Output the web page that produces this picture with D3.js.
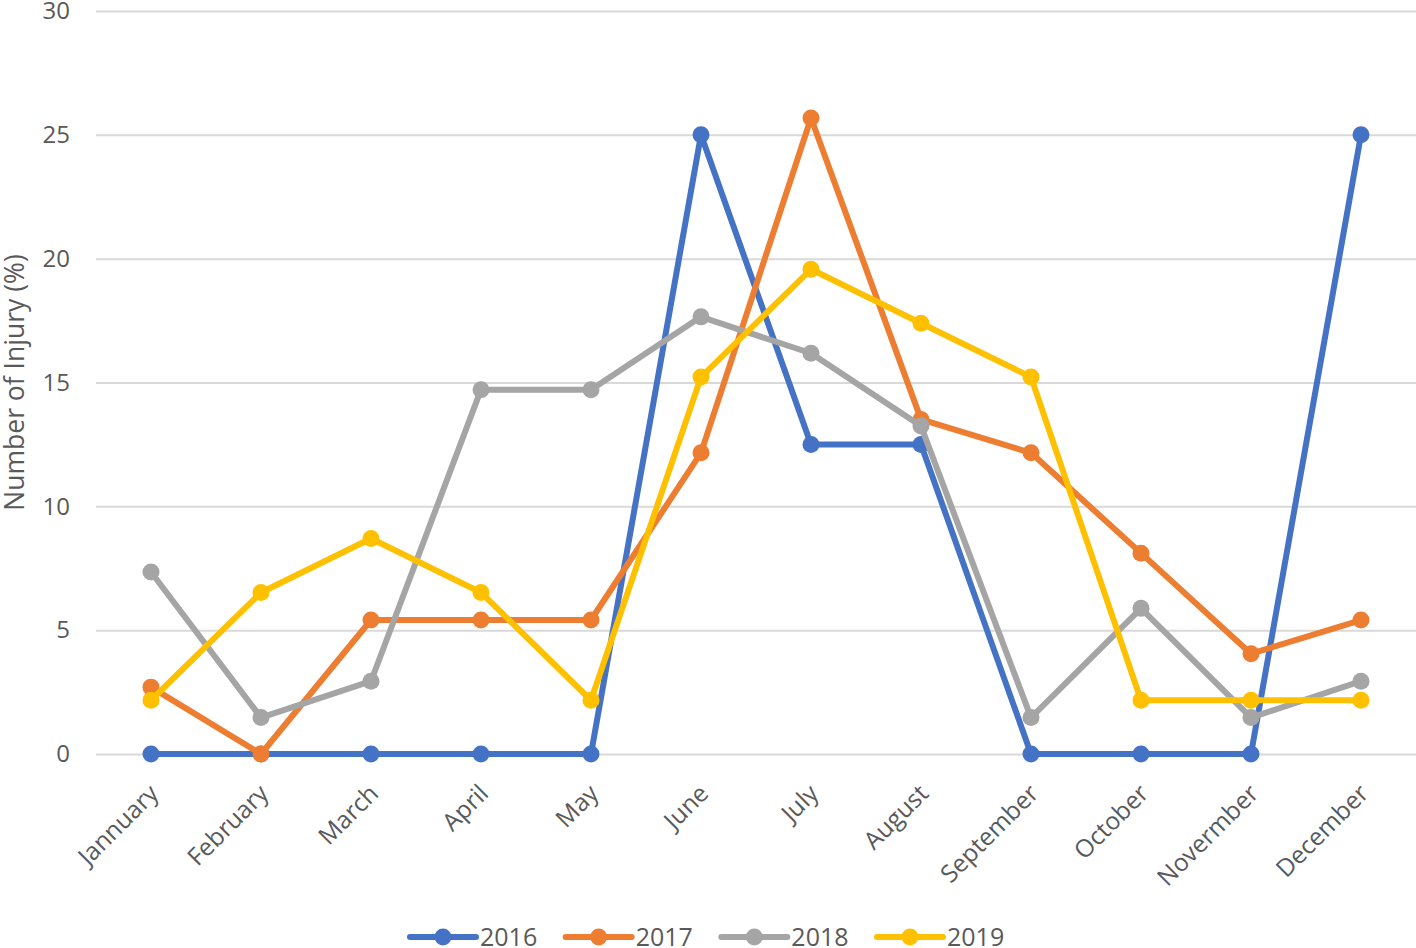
<!DOCTYPE html>
<html>
<head>
<meta charset="utf-8">
<script src="https://cdn.jsdelivr.net/npm/d3@7"></script>
<style>
  body { margin: 0; background: #fff; }
  text { font-family: "Open Sans", "Noto Sans", sans-serif; fill: #595959; }
</style>
</head>
<body>
<div id="chart"></div>
<script>
// Months as labelled in the source (typos kept)
var months = ["Jannuary", "February", "March", "April", "May", "June", "July",
              "August", "September", "October", "Novermber", "December"];

var years = ["2016", "2017", "2018", "2019"];

var v2016 = [0, 0, 0, 0, 0, 25, 12.5, 12.5, 0, 0, 0, 25];
var v2017 = [2.7, 0, 5.41, 5.41, 5.41, 12.16, 25.68, 13.51, 12.16, 8.11, 4.05, 5.41];
var v2018 = [7.35, 1.47, 2.94, 14.71, 14.71, 17.65, 16.18, 13.24, 1.47, 5.88, 1.47, 2.94];
var v2019 = [2.17, 6.52, 8.7, 6.52, 2.17, 15.22, 19.57, 17.39, 15.22, 2.17, 2.17, 2.17];

var yTicks = [0, 5, 10, 15, 20, 25, 30];

var colors = ["#4472C4", "#ED7D31", "#A5A5A5", "#FFC000"];

var series = [v2016, v2017, v2018, v2019].map(function(vals, i) {
  return { id: years[i], values: vals };
});

var W = 1416, H = 948;
var plotLeft = 96, plotRight = 1416, plotTop = 11, plotBottom = 754;

var svg = d3.select('#chart').append('svg')
            .attr('width', W).attr('height', H);

var x = d3.scaleBand().domain(months).range([plotLeft, plotRight]);
var y = d3.scaleLinear().domain([0, 30]).range([plotBottom, plotTop]);
var color = d3.scaleOrdinal().domain(years).range(colors);

// Gridlines + y labels
var yAxis = d3.axisLeft(y).tickValues(yTicks).tickSize(-(plotRight - plotLeft)).tickPadding(26);
var gy = svg.append('g').attr('transform', 'translate(' + plotLeft + ',0)').call(yAxis);
gy.select('.domain').remove();
gy.selectAll('line').attr('stroke', '#d9d9d9').attr('stroke-width', 2);
gy.selectAll('text').style('font-size', '24px').attr('fill', '#595959');

// x labels
var xAxis = d3.axisBottom(x).tickSize(0).tickPadding(0);
var gx = svg.append('g').attr('transform', 'translate(0,' + plotBottom + ')').call(xAxis);
gx.select('.domain').remove();
gx.selectAll('text')
  .style('font-size', '24.5px')
  .attr('fill', '#595959')
  .attr('text-anchor', 'end')
  .attr('y', 0)
  .attr('dy', null)
  .attr('transform', 'translate(9,41) rotate(-45)');

// Y axis title
svg.append('text')
   .attr('transform', 'translate(24,' + ((plotTop + plotBottom) / 2) + ') rotate(-90)')
   .attr('text-anchor', 'middle')
   .style('font-size', '26.5px')
   .text('Number of Injury (%)');

var line = d3.line()
             .x(function(d, i) { return x(months[i]) + x.bandwidth() / 2; })
             .y(function(d) { return y(d); });

var g = svg.append('g').selectAll('g').data(series).enter().append('g');

g.append('path')
 .attr('d', function(s) { return line(s.values); })
 .attr('fill', 'none')
 .attr('stroke', function(s) { return color(s.id); })
 .attr('stroke-width', 6)
 .attr('stroke-linejoin', 'round');

g.selectAll('circle')
 .data(function(s) { return s.values.map(function(v, i) { return { v: v, i: i, id: s.id }; }); })
 .enter().append('circle')
 .attr('cx', function(d) { return x(months[d.i]) + x.bandwidth() / 2; })
 .attr('cy', function(d) { return y(d.v); })
 .attr('r', 8.5)
 .attr('fill', function(d) { return color(d.id); });

// Legend
var legendX = d3.scalePoint().domain(years).range([410, 877]);
var lg = svg.append('g').selectAll('g').data(years).enter().append('g')
            .attr('transform', function(d) { return 'translate(' + legendX(d) + ',937)'; });
lg.append('line').attr('x1', 0).attr('x2', 66).attr('y1', 0).attr('y2', 0)
  .attr('stroke', function(d) { return color(d); }).attr('stroke-width', 6)
  .attr('stroke-linecap', 'round');
lg.append('circle').attr('cx', 33).attr('r', 8.5).attr('fill', function(d) { return color(d); });
lg.append('text').attr('x', 70).attr('dy', '0.36em').style('font-size', '25px').text(function(d) { return d; });
</script>
</body>
</html>
